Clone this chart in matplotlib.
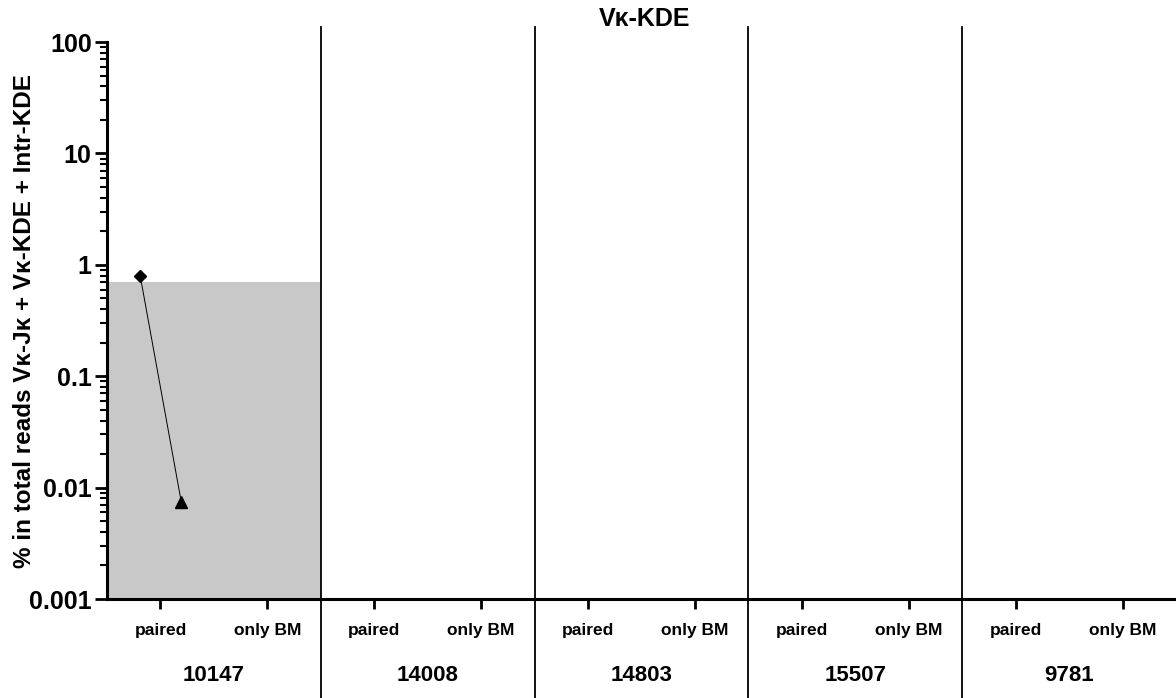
import matplotlib.pyplot as plt
from matplotlib.ticker import LogLocator, FixedLocator, NullFormatter

plt.rcParams['font.family'] = ['Liberation Sans', 'DejaVu Sans']

patients = ['10147', '14008', '14803', '15507', '9781']
conditions = ['paired', 'only BM']

# shaded background per patient (only patient 10147 has a value)
shade_values = [0.7, None, None, None, None]

# paired sample of patient 10147: PB (diamond) -> BM (triangle)
pair_x = [0.155, 0.347]
pair_y = [0.8, 0.0075]

fig = plt.figure(figsize=(11.76, 6.98), dpi=100)
ax = fig.add_axes([0.091, 0.1418, 0.909, 0.798])

n = len(patients)
for i, val in enumerate(shade_values):
    if val is not None:
        ax.fill_between([i, i + 1], 0.001, val, color='#c8c8c8', lw=0, zorder=0)

ax.plot(pair_x, pair_y, color='black', lw=0.7, zorder=2)
ax.plot(pair_x[0], pair_y[0], marker='D', ms=6, color='black', ls='none', zorder=3)
ax.plot(pair_x[1], pair_y[1], marker='^', ms=8, color='black', ls='none', zorder=3)

ax.set_yscale('log')
ax.set_ylim(0.001, 100)
ax.set_xlim(0, n)

# group dividers reaching above and below the plot area
for i in range(1, n):
    ax.axvline(i, ymin=-0.18, ymax=1.027, color='black', lw=1.3, clip_on=False, zorder=4)

ax.spines['top'].set_visible(False)
ax.spines['right'].set_visible(False)
ax.spines['left'].set_linewidth(2.2)
ax.spines['bottom'].set_linewidth(2.2)

ax.yaxis.set_minor_locator(LogLocator(base=10, subs=range(2, 10), numticks=20))
ax.yaxis.set_minor_formatter(NullFormatter())
ax.set_yticks([0.001, 0.01, 0.1, 1, 10, 100])
ax.set_yticklabels(['0.001', '0.01', '0.1', '1', '10', '100'])
ax.tick_params(axis='y', which='major', length=9, width=2, labelsize=18, pad=2)
ax.tick_params(axis='y', which='minor', length=5, width=1.5)
for lab in ax.get_yticklabels():
    lab.set_fontweight('bold')

xt = []
xl = []
for i in range(n):
    for j, c in enumerate(conditions):
        xt.append(i + 0.25 + 0.5 * j)
        xl.append(c)
ax.xaxis.set_major_locator(FixedLocator(xt))
ax.set_xticklabels(xl, fontsize=12.5, fontweight='bold')
ax.tick_params(axis='x', which='major', length=7, width=2, pad=10)
ax.xaxis.set_minor_locator(FixedLocator([]))

for i, p in enumerate(patients):
    ax.text(i + 0.5, -0.137, p, transform=ax.get_xaxis_transform(),
            ha='center', va='center', fontsize=16, fontweight='bold')

ax.set_ylabel('% in total reads V\u03ba-J\u03ba + V\u03ba-KDE + Intr-KDE',
              fontsize=17.5, fontweight='bold')
ax.yaxis.set_label_coords(-0.066, 0.5)
fig.text(0.548, 0.973, 'V\u03ba-KDE', ha='center', va='center',
         fontsize=18, fontweight='bold')

fig.savefig('out.png', dpi=100)
